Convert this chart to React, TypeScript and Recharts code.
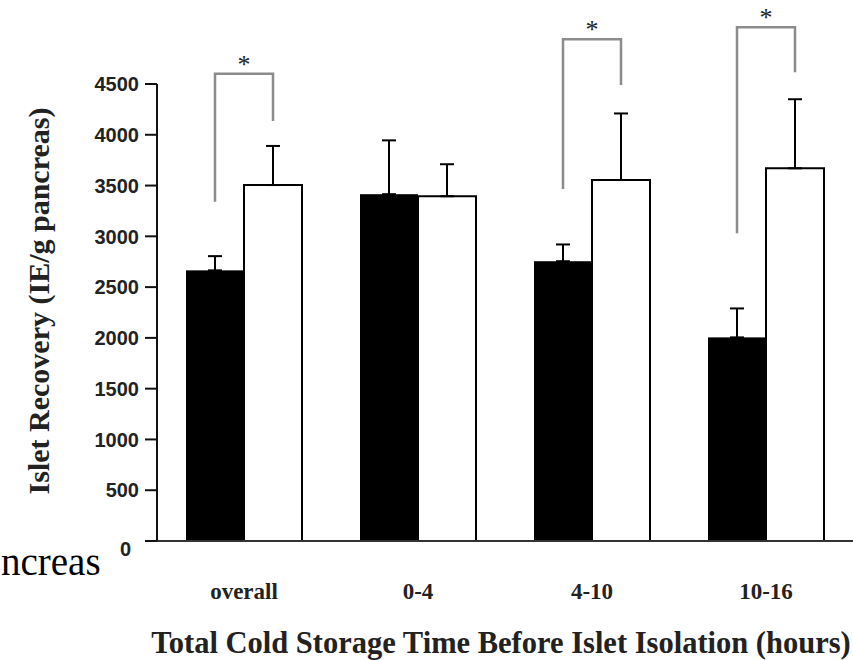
import React from "react"
import { ComposedChart, Bar, XAxis, YAxis, ErrorBar, Customized } from "recharts"

const categories = ["overall", "0-4", "4-10", "10-16"]
const blackValues = [2665, 3415, 2755, 2005]
const blackErrors = [140, 530, 165, 285]
const whiteValues = [3505, 3395, 3555, 3670]
const whiteErrors = [385, 315, 655, 680]
const yTicks = [0, 500, 1000, 1500, 2000, 2500, 3000, 3500, 4000, 4500]

// significance brackets (value units): left leg bottom, top, right leg bottom
const bracketLeft = [3340, null, 3465, 3030]
const bracketTop = [4600, null, 4940, 5060]
const bracketRight = [4135, null, 4490, 4615]

const data = categories.map((c, i) => ({
  cat: c,
  black: blackValues[i],
  blackErr: [0, blackErrors[i]],
  white: whiteValues[i],
  whiteErr: [0, whiteErrors[i]],
}))

const serif = "'Liberation Serif', 'Times New Roman', serif"
const sans = "'Liberation Sans', Arial, sans-serif"

function BlackBar(props: any) {
  const { x, y, width, height, index, payload } = props
  const k = height / payload.black
  const base = y + height
  const py = (v: number) => base - v * k
  const l = bracketLeft[index]
  const t = bracketTop[index]
  const r = bracketRight[index]
  const xl = x + width / 2
  const xr = x + width * 1.5
  return (
    <g>
      <rect x={x} y={y} width={width} height={height} fill="#000" />
      {l != null && t != null && r != null && (
        <g>
          <polyline
            points={`${xl},${py(l)} ${xl},${py(t)} ${xr},${py(t)} ${xr},${py(r)}`}
            fill="none"
            stroke="#8c8c8c"
            strokeWidth={2.5}
          />
          <text x={(xl + xr) / 2} y={py(t) - 1} textAnchor="middle" fontFamily={serif} fontSize={26} fill="#222">
            *
          </text>
        </g>
      )}
    </g>
  )
}

function YTick(props: any) {
  const { x, y, payload } = props
  const zero = payload.value === 0
  return (
    <text
      x={x + (zero ? -8 : 0)}
      y={y + (zero ? 8 : 0)}
      dy="0.36em"
      textAnchor="end"
      fontFamily={sans}
      fontWeight="bold"
      fontSize={20}
      fill="#222"
    >
      {payload.value}
    </text>
  )
}

function Titles() {
  return (
    <g>
      <text
        x={38}
        y={301}
        transform="rotate(-90 38 301)"
        textAnchor="middle"
        dominantBaseline="central"
        fontFamily={serif}
        fontWeight="bold"
        fontSize={30}
        fill="#222"
      >
        Islet Recovery (IE/g pancreas)
      </text>
      <text x={501} y={653} textAnchor="middle" fontFamily={serif} fontWeight="bold" fontSize={30.5} fill="#222">
        Total Cold Storage Time Before Islet Isolation (hours)
      </text>
      <text x={1} y={575} textAnchor="start" fontFamily={serif} fontSize={39} fill="#000">
        ncreas
      </text>
    </g>
  )
}

export default function App() {
  return (
    <div style={{ position: "absolute", left: 0, top: 0, background: "#fff" }}>
      <ComposedChart
        width={853}
        height={660}
        data={data}
        margin={{ top: 84, right: 0, bottom: 89, left: 87 }}
        barGap={0}
        barCategoryGap={29}
      >
        <XAxis
          dataKey="cat"
          height={30}
          axisLine={{ stroke: "#333", strokeWidth: 2 }}
          tickLine={false}
          tickMargin={36}
          tick={{ fill: "#222", fontFamily: serif, fontWeight: "bold", fontSize: 23 }}
        />
        <YAxis
          width={70}
          domain={[0, 4500]}
          ticks={yTicks}
          interval={0}
          axisLine={{ stroke: "#111", strokeWidth: 2 }}
          tickLine={{ stroke: "#111", strokeWidth: 2 }}
          tickSize={12}
          tickMargin={6}
          tick={<YTick />}
        />
        <Bar dataKey="black" barSize={58} fill="#000" shape={<BlackBar />} isAnimationActive={false}>
          <ErrorBar dataKey="blackErr" direction="y" width={7} stroke="#000" strokeWidth={2} />
        </Bar>
        <Bar dataKey="white" barSize={58} fill="#fff" stroke="#000" strokeWidth={2} isAnimationActive={false}>
          <ErrorBar dataKey="whiteErr" direction="y" width={7} stroke="#000" strokeWidth={2} />
        </Bar>
        <Customized component={Titles} />
      </ComposedChart>
    </div>
  )
}
